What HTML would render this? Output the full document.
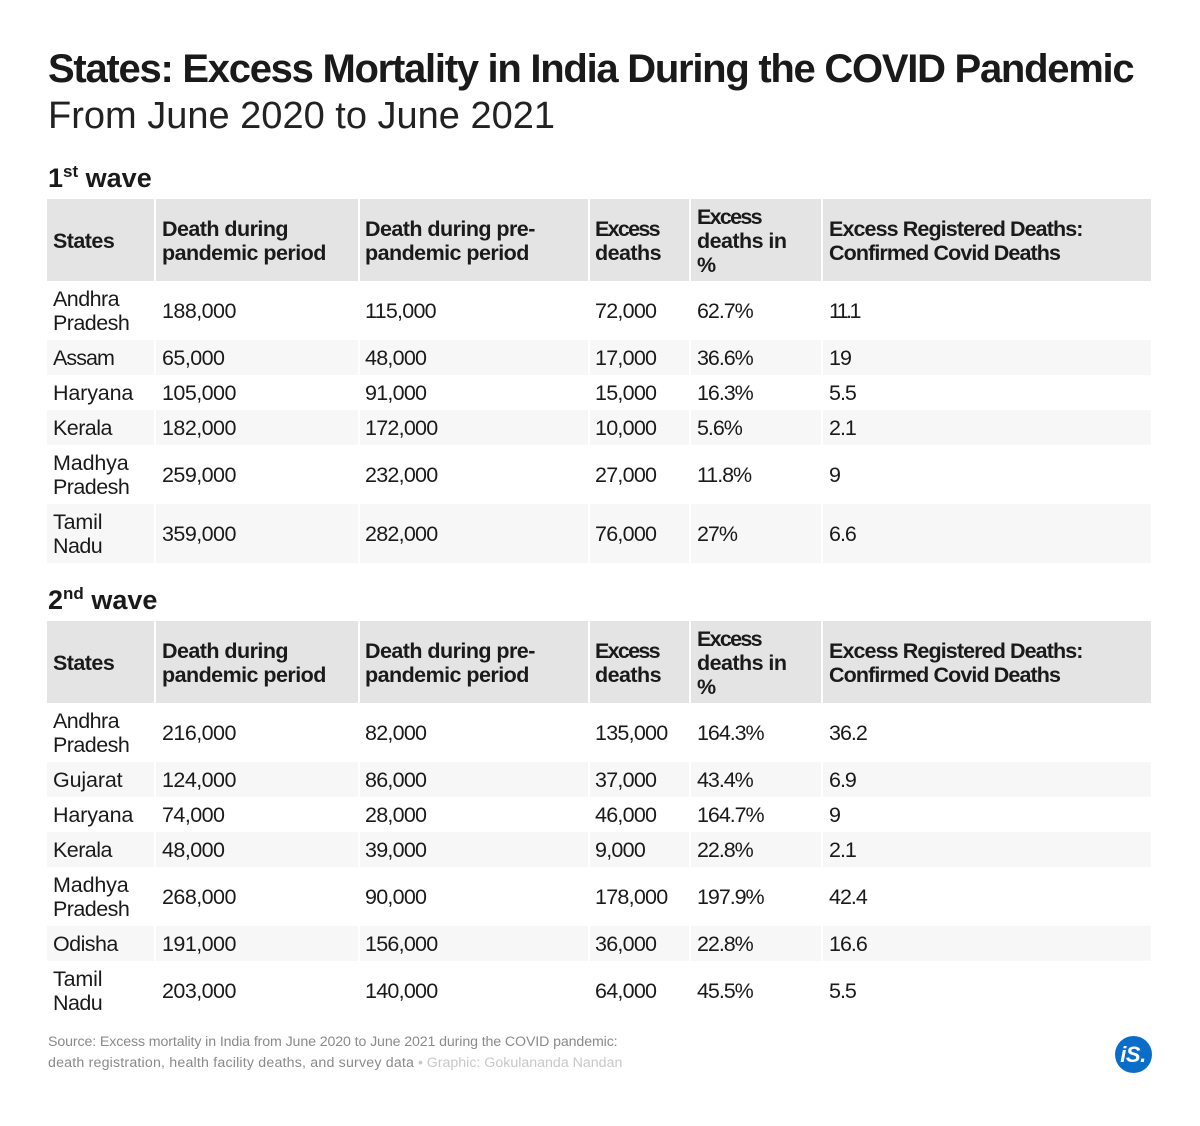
<!DOCTYPE html>
<html lang="en">
<head>
<meta charset="utf-8">
<title>States: Excess Mortality in India During the COVID Pandemic</title>
<style>
html,body{margin:0;padding:0;background:#fff}
body{width:1200px;height:1126px;position:relative;overflow:hidden;font-family:"Liberation Sans",sans-serif;color:#1a1a1a}
.abs{position:absolute;white-space:nowrap}
#title{left:48px;top:45px;font-size:40px;line-height:48px;font-weight:700;letter-spacing:-1.27px}
#subtitle{left:48px;top:93px;font-size:38px;line-height:46px;color:#222}
.wave{left:48px;font-size:27px;line-height:32px;font-weight:700;letter-spacing:0}
.wave sup{font-size:17px;line-height:0;vertical-align:baseline;position:relative;top:-10px}
table{position:absolute;left:47px;width:1104px;table-layout:fixed;border-collapse:separate;border-spacing:0;font-size:21.5px;line-height:24px;letter-spacing:-.55px}
th,td{padding:0 0 0 6px;text-align:left;vertical-align:middle;border-right:2px solid #fff;box-sizing:border-box;white-space:nowrap}
th:last-child,td:last-child{border-right:0}
th{background:#e4e4e4;font-weight:700;height:82px;padding-top:2px}
td{font-weight:400}
th:nth-child(3),td:nth-child(3),th:nth-child(4),td:nth-child(4){padding-left:5px}
td:nth-child(3),td:nth-child(4){letter-spacing:-.75px}
td:nth-child(5){letter-spacing:-1.05px}
td:nth-child(6){letter-spacing:-1px}
th:nth-child(6){letter-spacing:-.9px}
.e{letter-spacing:-1.7px}
.w{letter-spacing:-.15px}
.n{letter-spacing:-.95px}
td .t{letter-spacing:-2.6px}
tr.s td{background:#f7f7f7}
tr.r1 td{height:35px}
tr.r2 td{height:59px}
#note{left:48px;top:1032px;font-size:14.2px;line-height:21px;color:#8a8a8a;letter-spacing:-.115px}
#note .l2{letter-spacing:.19px}
#note .c{color:#c8c8c8;letter-spacing:0}
#logo{left:1114.5px;top:1035.5px;width:37px;height:37px;border-radius:50%;background:#0a6ec9;color:#fff;font-weight:700;font-size:22px;line-height:37px;text-align:center;letter-spacing:-.5px}
</style>
</head>
<body>
<div class="abs" id="title">States: Excess Mortality in India During the COVID Pandemic</div>
<div class="abs" id="subtitle">From June 2020 to June 2021</div>

<div class="abs wave" style="top:162px">1<sup>st</sup> wave</div>
<table style="top:199px">
<colgroup><col style="width:109px"><col style="width:204px"><col style="width:230px"><col style="width:101px"><col style="width:132px"><col style="width:328px"></colgroup>
<thead>
<tr>
<th>States</th>
<th>Death during<br>pandemic period</th>
<th>Death during pre-<br>pandemic period</th>
<th><span class="e">Excess</span><br>deaths</th>
<th><span class="e">Excess</span><br>deaths in<br>%</th>
<th>Excess Registered Deaths:<br>Confirmed Covid Deaths</th>
</tr>
</thead>
<tbody>
<tr class="r2"><td>Andhra<br>Pradesh</td><td>188,000</td><td>115,000</td><td>72,000</td><td>62.7%</td><td><span class="t">11.1</span></td></tr>
<tr class="r1 s"><td><span class="n">Assam</span></td><td>65,000</td><td>48,000</td><td>17,000</td><td>36.6%</td><td>19</td></tr>
<tr class="r1"><td><span class="w">Haryana</span></td><td>105,000</td><td>91,000</td><td>15,000</td><td>16.3%</td><td>5.5</td></tr>
<tr class="r1 s"><td>Kerala</td><td>182,000</td><td>172,000</td><td>10,000</td><td>5.6%</td><td>2.1</td></tr>
<tr class="r2"><td><span class="w">Madhya</span><br>Pradesh</td><td>259,000</td><td>232,000</td><td>27,000</td><td>11.8%</td><td>9</td></tr>
<tr class="r2 s"><td><span class="w">Tamil</span><br>Nadu</td><td>359,000</td><td>282,000</td><td>76,000</td><td>27%</td><td>6.6</td></tr>
</tbody>
</table>

<div class="abs wave" style="top:584px">2<sup>nd</sup> wave</div>
<table style="top:621px">
<colgroup><col style="width:109px"><col style="width:204px"><col style="width:230px"><col style="width:101px"><col style="width:132px"><col style="width:328px"></colgroup>
<thead>
<tr>
<th>States</th>
<th>Death during<br>pandemic period</th>
<th>Death during pre-<br>pandemic period</th>
<th><span class="e">Excess</span><br>deaths</th>
<th><span class="e">Excess</span><br>deaths in<br>%</th>
<th>Excess Registered Deaths:<br>Confirmed Covid Deaths</th>
</tr>
</thead>
<tbody>
<tr class="r2"><td>Andhra<br>Pradesh</td><td>216,000</td><td>82,000</td><td>135,000</td><td>164.3%</td><td>36.2</td></tr>
<tr class="r1 s"><td><span class="w">Gujarat</span></td><td>124,000</td><td>86,000</td><td>37,000</td><td>43.4%</td><td>6.9</td></tr>
<tr class="r1"><td><span class="w">Haryana</span></td><td>74,000</td><td>28,000</td><td>46,000</td><td>164.7%</td><td>9</td></tr>
<tr class="r1 s"><td>Kerala</td><td>48,000</td><td>39,000</td><td>9,000</td><td>22.8%</td><td>2.1</td></tr>
<tr class="r2"><td><span class="w">Madhya</span><br>Pradesh</td><td>268,000</td><td>90,000</td><td>178,000</td><td>197.9%</td><td>42.4</td></tr>
<tr class="r1 s"><td>Odisha</td><td>191,000</td><td>156,000</td><td>36,000</td><td>22.8%</td><td>16.6</td></tr>
<tr class="r2"><td><span class="w">Tamil</span><br>Nadu</td><td>203,000</td><td>140,000</td><td>64,000</td><td>45.5%</td><td>5.5</td></tr>
</tbody>
</table>

<div class="abs" id="note">Source: Excess mortality in India from June 2020 to June 2021 during the COVID pandemic:<br><span class="l2">death registration, health facility deaths, and survey data</span> <span class="c">•</span> <span class="c">Graphic: Gokulananda Nandan</span></div>
<div class="abs" id="logo"><i>iS.</i></div>
</body>
</html>
